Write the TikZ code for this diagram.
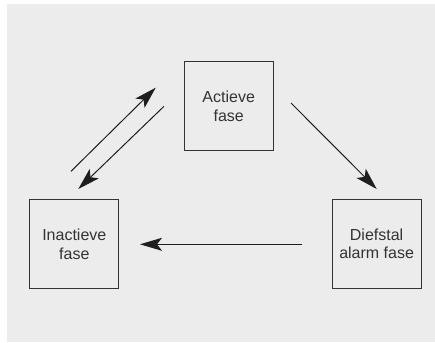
\documentclass[tikz,border=0pt]{standalone}
\usepackage{fontspec}
\setmainfont{Liberation Sans}
\usetikzlibrary{arrows.meta, positioning}
\definecolor{phBack}{HTML}{ECECEC}
\definecolor{phLine}{HTML}{333333}
\definecolor{phArrow}{HTML}{1E1E1E}
\tikzset{
  phase/.style={
    draw=phLine, line width=0.9pt, minimum width=89pt, minimum height=89pt,
    align=center, inner sep=0pt,
    font=\fontsize{16pt}{18.7pt}\selectfont, text=phLine
  },
  trans/.style={-{Stealth[length=22pt, width=13pt, inset=5pt]}, line width=1pt, phArrow}
}
\begin{document}
\begin{tikzpicture}[x=1pt, y=-1pt]
  \useasboundingbox (0,0) rectangle (435,342);
  \fill[phBack] (7,4) rectangle (435,342);
  \node[phase] (act) at (228.7,106) {Actieve\\fase};
  \node[phase, below left=48.5pt and 64.5pt of act] (inact) {Inactieve\\fase};
  \node[phase, below right=48pt and 58pt of act] (theft) {Diefstal\\alarm fase};
  % free ends of the transitions
  \coordinate (ia1) at (71,171.3);   \coordinate (ia2) at (155.7,87.7);
  \coordinate (ai1) at (164,106.3);  \coordinate (ai2) at (78.3,189);
  \coordinate (ad1) at (291,103);    \coordinate (ad2) at (376.7,189);
  \coordinate (di1) at (302.3,244.3); \coordinate (di2) at (140,244.3);
  \draw[trans] (ia1) -- (ia2);
  \draw[trans] (ai1) -- (ai2);
  \draw[trans] (ad1) -- (ad2);
  \draw[trans] (di1) -- (di2);
\end{tikzpicture}
\end{document}
